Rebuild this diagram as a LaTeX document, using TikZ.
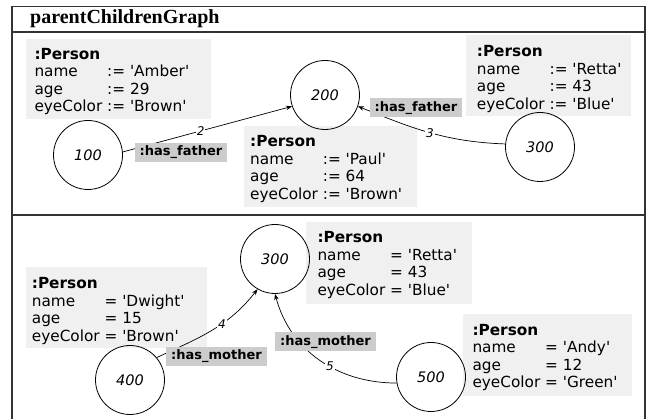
\documentclass[tikz,border=0pt]{standalone}
\usepackage{fontspec}
\newfontfamily\bodyfont{DejaVu Sans}
\newfontfamily\titlefont{Liberation Serif}
\usetikzlibrary{arrows.meta}
\definecolor{boxgray}{HTML}{F0F0F0}
\definecolor{labgray}{HTML}{CCCCCC}
\definecolor{framecol}{HTML}{333333}
\begin{document}
\begin{tikzpicture}[x=1pt,y=1pt,
  frame/.style={line width=1.2pt, draw=framecol},
  pbox/.style={fill=boxgray, draw=none, anchor=north west, inner sep=0pt},
  ptext/.style={anchor=north west, inner sep=0pt, align=left, font=\bodyfont\fontsize{15.3}{17.4}\selectfont},
  obj/.style={circle, draw=black, line width=0.8pt, minimum size=69pt, inner sep=0pt, font=\bodyfont\itshape\fontsize{14.5}{16}\selectfont},
  rel/.style={fill=labgray, inner xsep=5pt, inner ysep=0pt, minimum height=19pt, font=\bodyfont\bfseries\fontsize{13}{15}\selectfont},
  edge/.style={line width=0.7pt, -{Stealth[length=6pt,width=4.5pt]}},
  num/.style={fill=white, inner sep=1pt, font=\bodyfont\itshape\fontsize{12}{14}\selectfont}]
\useasboundingbox (0,0) rectangle (647,419);
% frame
\draw[frame] (12,-5) -- (12,412.5) -- (645,412.5) -- (645,-5);
\draw[frame] (12,387) -- (645,387);
\draw[frame] (12,204) -- (645,204);
\node[anchor=base west, inner sep=0pt, font=\titlefont\bfseries\fontsize{20}{24}\selectfont] (title) at (30,395) {parentChildrenGraph};
% person boxes (top)
\node[pbox, minimum width=185pt, minimum height=80pt] (bA) at (26,380) {};
\node[ptext] (tA) at (34.3,372) {\begin{tabular}{@{}l@{ }l@{}}\textbf{:Person}\\ name & := 'Amber'\\ age & := 29\\ eyeColor & := 'Brown'\end{tabular}};
\node[pbox, minimum width=173pt, minimum height=81pt] (bP) at (244,293) {};
\node[ptext] (tP) at (250,284.5) {\begin{tabular}{@{}l@{ }l@{}}\textbf{:Person}\\ name & := 'Paul'\\ age & := 64\\ eyeColor & := 'Brown'\end{tabular}};
\node[pbox, minimum width=165pt, minimum height=81pt] (bR) at (466,384) {};
\node[ptext] (tR) at (476.7,374.5) {\begin{tabular}{@{}l@{ }l@{}}\textbf{:Person}\\ name & := 'Retta'\\ age & := 43\\ eyeColor & := 'Blue'\end{tabular}};
% person boxes (bottom)
\node[pbox, minimum width=166pt, minimum height=82pt] (bR2) at (306,197) {};
\node[ptext] (tR2) at (317.3,188.5) {\begin{tabular}{@{}l@{ }l@{}}\textbf{:Person}\\ name & = 'Retta'\\ age & = 43\\ eyeColor & = 'Blue'\end{tabular}};
\node[pbox, minimum width=181pt, minimum height=81pt] (bD) at (26,152) {};
\node[ptext] (tD) at (31.7,142.5) {\begin{tabular}{@{}l@{ }l@{}}\textbf{:Person}\\ name & = 'Dwight'\\ age & = 15\\ eyeColor & = 'Brown'\end{tabular}};
\node[pbox, minimum width=169pt, minimum height=82pt] (bN) at (463,105) {};
\node[ptext] (tN) at (472.3,96) {\begin{tabular}{@{}l@{ }l@{}}\textbf{:Person}\\ name & = 'Andy'\\ age & = 12\\ eyeColor & = 'Green'\end{tabular}};
% objects
\node[obj] (c100) at (88,264) {100};
\node[obj] (c200) at (325,324) {200};
\node[obj] (c300t) at (540,272) {300};
\node[obj] (c300b) at (275,160) {300};
\node[obj] (c400) at (130,39) {400};
\node[obj] (c500) at (431,42) {500};
% edges
\draw[edge] (c100.5) -- node[num, pos=0.46] {2} (c200.199);
\draw[edge] (c300t.175) to[out=178,in=-22] node[num, pos=0.5] {3} (c200.-19);
\draw[edge] (c400.40) to[out=25,in=-128] node[num, pos=0.6] {4} (c300b.-120);
\draw[edge] (c500.190) to[out=180,in=-75] node[num, pos=0.42] {5} (c300b.-90);
% relation labels
\node[rel] (hf1) at (181,266.5) {:has\_father};
\node[rel] (hf2) at (416,311) {:has\_father};
\node[rel] (hm1) at (216.5,62.5) {:has\_mother};
\node[rel] (hm2) at (325.5,77) {:has\_mother};
\end{tikzpicture}
\end{document}
